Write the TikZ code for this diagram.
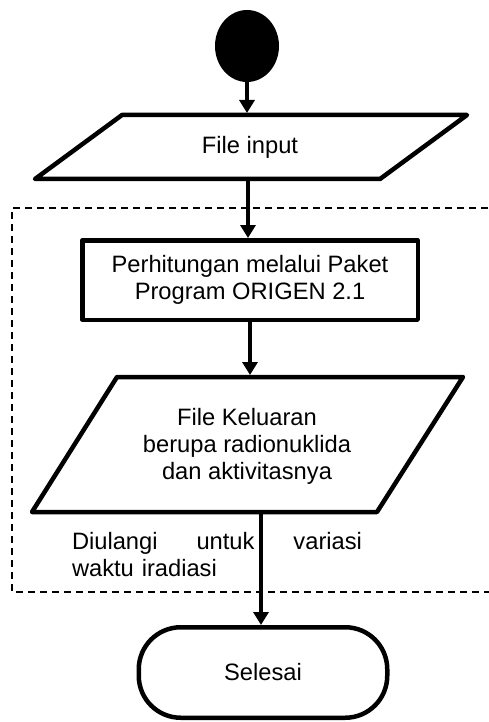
\documentclass[tikz,border=0pt]{standalone}
\usepackage{fontspec}
\setmainfont{Liberation Sans}
\usetikzlibrary{arrows.meta,shapes.geometric}
\begin{document}
\begin{tikzpicture}[x=1pt,y=-1pt,
  shapeline/.style={line width=4.5pt, line join=round},
  flow/.style={line width=4pt, -{Triangle[width=15pt,length=13pt]}},
  txt/.style={font=\fontsize{23.7}{27}\selectfont, align=center, inner sep=0pt},
  dashedbox/.style={line width=1.3pt, dash pattern=on 7pt off 5pt}]
\useasboundingbox (0,0) rectangle (489,722);

% dashed loop region (right side runs off the picture)
\draw[dashedbox] (500,208) -| (12,592) -- (500,592);

% start
\node[ellipse, fill=black, minimum width=64pt, minimum height=72pt, inner sep=0pt] (start) at (247,46) {};

% input parallelogram
\draw[shapeline] (122,115) -- (467,115) -- (380,179) -- (35,179) -- cycle;
\node[txt] (input) at (250,147) {File input};
\coordinate (p1top) at (248,113);
\coordinate (p1bot) at (248,179);

% process box
\node[draw, shapeline, txt, minimum width=335.5pt, minimum height=79.5pt] (calc) at (250,280)
  {Perhitungan melalui Paket\\Program ORIGEN 2.1};

% output parallelogram
\draw[shapeline] (117,377) -- (463,377) -- (377,512) -- (32,512) -- cycle;
\node[txt] (output) at (247,446) {File Keluaran\\berupa radionuklida\\dan aktivitasnya};
\coordinate (p2top) at (250,375);
\coordinate (p2bot) at (261,512);

% loop note
\node[font=\fontsize{23.7}{27}\selectfont, text width=290pt, align=left, inner sep=0pt] (note) at (217,555)
  {\hbox to 290pt{Diulangi\hfill untuk\hfill variasi}\\waktu iradiasi};

% end terminator
\node[draw, shapeline, txt, rounded corners=42pt, minimum width=248.5pt, minimum height=90.5pt] (finish) at (263,672.5) {Selesai};

% connectors
\draw[flow] (start.south) -- (start.south |- p1top);
\draw[flow] (p1bot) -- (p1bot |- calc.north);
\draw[flow] (calc.south) -- (calc.south |- p2top);
\draw[flow] (p2bot) -- (p2bot |- finish.north);
\end{tikzpicture}
\end{document}
